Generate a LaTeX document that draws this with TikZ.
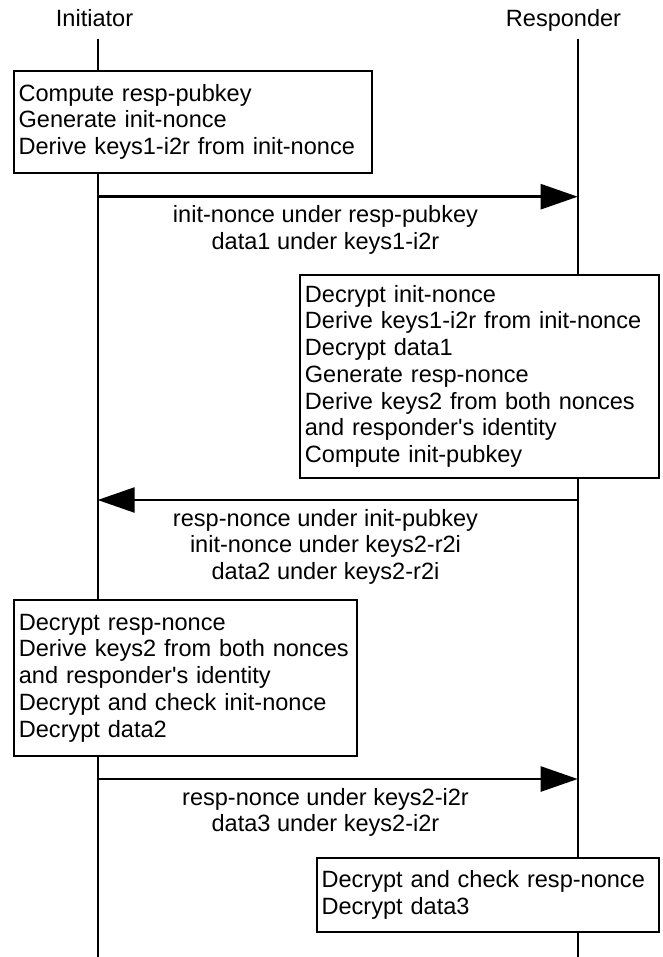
\documentclass[tikz,border=0pt]{standalone}
\usepackage{fontspec}
\setmainfont{Liberation Sans}
\usetikzlibrary{arrows.meta}

% one unbreakable line of text inside a step box
\newcommand{\stepline}[1]{\mbox{#1}}
\newcommand{\apos}{\textquotesingle}

\tikzset{
  txt/.style={font=\fontsize{23.55}{26.7}\selectfont, inner sep=0pt},
  lifeline/.style={line width=2pt, draw=black},
  actbox/.style={txt, draw=black, line width=2pt, fill=white, rectangle,
    anchor=north west, align=left, inner xsep=4.6pt, inner ysep=0pt,
    execute at begin node={\hbadness=10000\hfuzz=50pt}},
  msg/.style={line width=2.6pt, -{Triangle[length=37pt, width=25pt]}},
  msglabel/.style={txt, align=center, anchor=north},
}

\begin{document}
\begin{tikzpicture}[x=1pt, y=-1pt]
  \useasboundingbox (0,0) rectangle (662,957);

  % participants
  \node[txt, anchor=base] (init) at (94.5,27) {Initiator};
  \node[txt, anchor=base] (resp) at (563.5,27) {Responder};

  % lifeline end points
  \coordinate (itop) at (97.7,39);
  \coordinate (ibot) at (97.7,957);
  \coordinate (rtop) at (577.7,39);
  \coordinate (rbot) at (577.7,957);
  \draw[lifeline] (itop) -- (ibot);
  \draw[lifeline] (rtop) -- (rbot);

  % message end points on the lifelines
  \coordinate (i1) at (97.7,196.7);  \coordinate (r1) at (577.7,196.7);
  \coordinate (i2) at (97.7,500);    \coordinate (r2) at (577.7,500);
  \coordinate (i3) at (97.7,779);    \coordinate (r3) at (577.7,779);

  % processing steps
  \node[actbox, minimum width=358.4pt, minimum height=101.7pt,
        text width=349.2pt] (b1) at (13,70)
    {\stepline{Compute resp-pubkey}\\\stepline{Generate init-nonce}\\\stepline{Derive keys1-i2r from init-nonce}};

  \node[actbox, minimum width=358.4pt, minimum height=202.5pt,
        text width=349.2pt] (b2) at (299.3,274)
    {\stepline{Decrypt init-nonce}\\\stepline{Derive keys1-i2r from init-nonce}\\\stepline{Decrypt data1}\\\stepline{Generate resp-nonce}\\\stepline{Derive keys2 from both nonces}\\\stepline{and responder\apos s identity}\\\stepline{Compute init-pubkey}};

  \node[actbox, minimum width=342.7pt, minimum height=155.4pt,
        text width=333.5pt] (b3) at (13.3,599.3)
    {\stepline{Decrypt resp-nonce}\\\stepline{Derive keys2 from both nonces}\\\stepline{and responder\apos s identity}\\\stepline{Decrypt and check init-nonce}\\\stepline{Decrypt data2}};

  \node[actbox, minimum width=341.7pt, minimum height=74pt,
        text width=332.5pt] (b4) at (316,856.7)
    {\stepline{Decrypt and check resp-nonce}\\\stepline{Decrypt data3}};

  % messages
  \draw[msg] (i1) -- (r1);
  \node[msglabel] (l1) at (325.5,205.5)
    {init-nonce under resp-pubkey\\data1 under keys1-i2r};

  \draw[msg] (r2) -- (i2);
  \node[msglabel] (l2) at (325.5,508.8)
    {resp-nonce under init-pubkey\\init-nonce under keys2-r2i\\data2 under keys2-r2i};

  \draw[msg] (i3) -- (r3);
  \node[msglabel] (l3) at (325.5,787.8)
    {resp-nonce under keys2-i2r\\data3 under keys2-i2r};
\end{tikzpicture}
\end{document}
